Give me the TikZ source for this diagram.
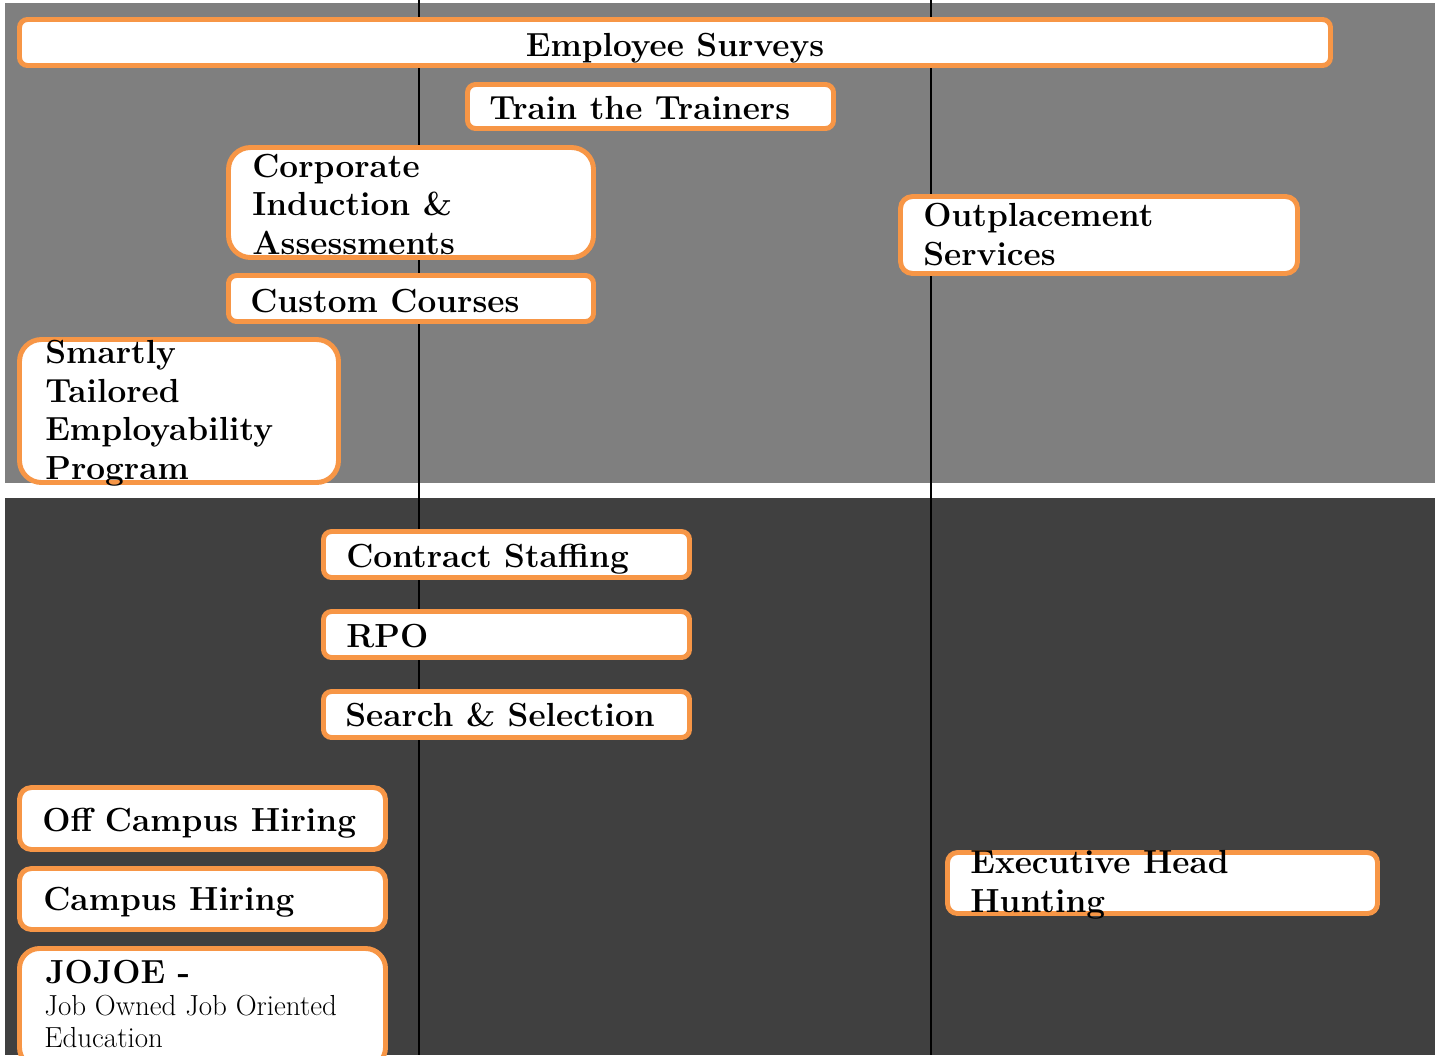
\documentclass[tikz,border=0pt]{standalone}
\usepackage{tikz}
\definecolor{topgray}{HTML}{7F7F7F}
\definecolor{lowgray}{HTML}{404040}
\definecolor{cardline}{HTML}{F79646}

\begin{document}
\begin{tikzpicture}[x=0.02cm,y=-0.02cm]
                \tikzstyle{card}=[draw=cardline,fill=white,line width=2.8pt,inner sep=0pt]
                \tikzstyle{lbl}=[inner sep=0pt,align=left,font=\fontsize{19}{21.9}\selectfont\bfseries]
                \tikzstyle{sub}=[inner sep=0pt,align=left,font=\fontsize{16.5}{18.1}\selectfont]
                \useasboundingbox[fill=white] (0,0) rectangle (1435,1055);
                \fill[topgray] (5,3) rectangle (1435,483);
                \fill[lowgray] (5,498) rectangle (1435,1055);
                \foreach \x in {419, 931}
                        \draw[line width=1.4pt] (\x,0) -- (\x,1055);

                % boxes: name/centre x/centre y/width/height/corner
                \foreach \name/\x/\y/\w/\h/\rad in {es/675/42.5/1311/46/0.16, tt/650.5/106.5/366/44/0.16,
                        cia/411/202.5/365/110/0.44, cc/411/298.5/365/46/0.16, ste/179/411/319/143/0.44,
                        os/1099/235/397/77/0.24, cs/506.5/554.5/366/46/0.16, rpo/506.5/634.5/366/46/0.16,
                        ss/506.5/714.5/366/46/0.16, och/202.5/818.5/366/62/0.24, ch/202.5/899/366/61/0.24,
                        jojoe/202.5/1008/366/119/0.4, ehh/1162.5/883/430/61/0.2}
                        \node[card, rounded corners=\rad cm, minimum width=\w*0.02cm, minimum height=\h*0.02cm] (\name) at (\x,\y) {};

                % labels (multi-line ones sit on their last baseline)
                \node[lbl, anchor=base] (es-t) at (675,56) {Employee Surveys};
                \node[lbl, anchor=base west] (tt-t) at (489,119) {Train the Trainers};
                \node[lbl, anchor=base west] (cia-t) at (252,254) {Corporate\\Induction \&\\Assessments};
                \node[lbl, anchor=base west] (cc-t) at (250,312) {Custom Courses};
                \node[lbl, anchor=base west] (ste-t) at (45,479) {Smartly\\Tailored\\Employability\\Program};
                \node[lbl, anchor=base west] (os-t) at (923,265) {Outplacement\\Services};
                \node[lbl, anchor=base west] (cs-t) at (346,567) {Contract Staffing};
                \node[lbl, anchor=base west] (rpo-t) at (346,647) {RPO};
                \node[lbl, anchor=base west] (ss-t) at (345,726) {Search \& Selection};
                \node[lbl, anchor=base west] (och-t) at (42,831) {Off Campus Hiring};
                \node[lbl, anchor=base west] (ch-t) at (43,910) {Campus Hiring};
                \node[lbl, anchor=base west] (jojoe-t) at (45,983) {JOJOE -};
                \node[sub, anchor=base west] (jojoe-s) at (44,1047) {Job Owned Job Oriented\\Education};
                \node[lbl, anchor=base west] (ehh-t) at (970,912) {Executive Head\\Hunting};
\end{tikzpicture}
\end{document}
